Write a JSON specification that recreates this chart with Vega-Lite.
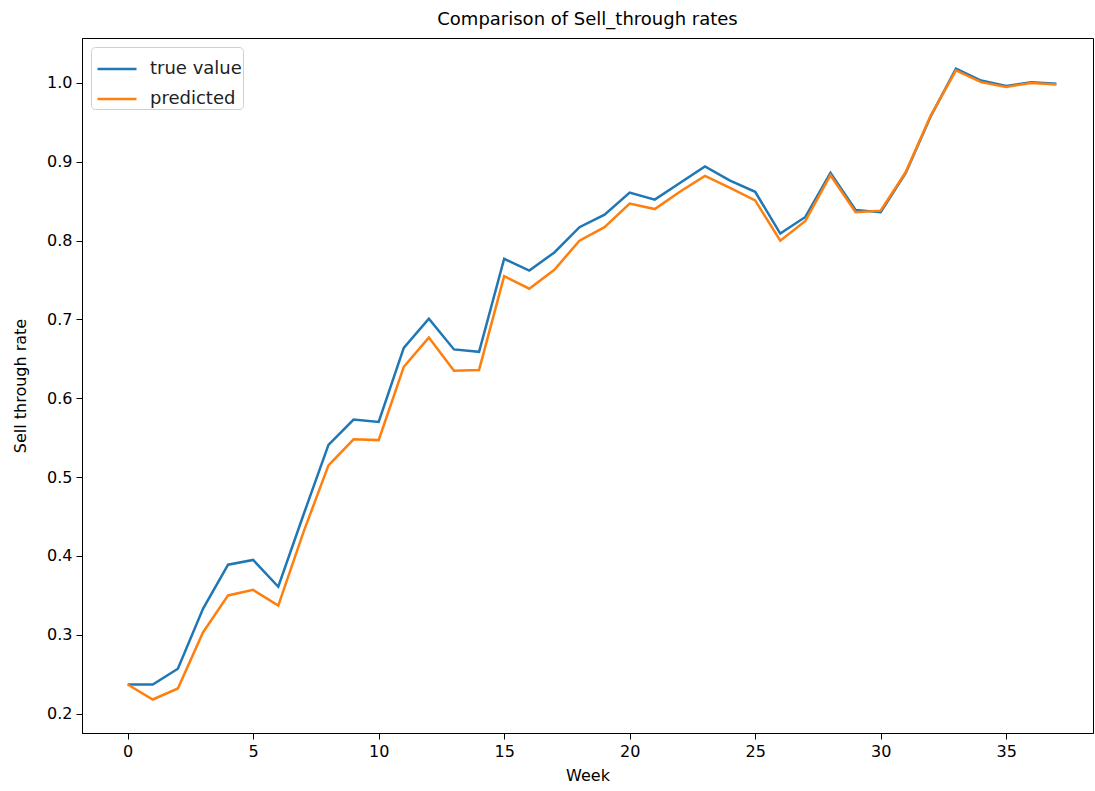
{
  "$schema": "https://vega.github.io/schema/vega-lite/v6.json",
  "autosize": {"type": "none"},
  "width": 1011,
  "height": 695,
  "padding": {"left": 82, "top": 38, "right": 2, "bottom": 58},
  "background": "white",
  "title": {"text": "Comparison of Sell_through rates", "fontSize": 18, "font": "DejaVu Sans", "fontWeight": "normal", "color": "#000", "anchor": "middle", "offset": 9},
  "data": {"values": [
    {"week":0,"series":"true value","rate":0.237},{"week":1,"series":"true value","rate":0.237},{"week":2,"series":"true value","rate":0.257},{"week":3,"series":"true value","rate":0.333},{"week":4,"series":"true value","rate":0.389},{"week":5,"series":"true value","rate":0.395},{"week":6,"series":"true value","rate":0.361},{"week":7,"series":"true value","rate":0.452},{"week":8,"series":"true value","rate":0.541},{"week":9,"series":"true value","rate":0.573},{"week":10,"series":"true value","rate":0.570},{"week":11,"series":"true value","rate":0.664},{"week":12,"series":"true value","rate":0.701},{"week":13,"series":"true value","rate":0.662},{"week":14,"series":"true value","rate":0.659},{"week":15,"series":"true value","rate":0.777},{"week":16,"series":"true value","rate":0.762},{"week":17,"series":"true value","rate":0.785},{"week":18,"series":"true value","rate":0.817},{"week":19,"series":"true value","rate":0.833},{"week":20,"series":"true value","rate":0.861},{"week":21,"series":"true value","rate":0.852},{"week":22,"series":"true value","rate":0.873},{"week":23,"series":"true value","rate":0.894},{"week":24,"series":"true value","rate":0.876},{"week":25,"series":"true value","rate":0.862},{"week":26,"series":"true value","rate":0.809},{"week":27,"series":"true value","rate":0.830},{"week":28,"series":"true value","rate":0.886},{"week":29,"series":"true value","rate":0.839},{"week":30,"series":"true value","rate":0.836},{"week":31,"series":"true value","rate":0.886},{"week":32,"series":"true value","rate":0.958},{"week":33,"series":"true value","rate":1.018},{"week":34,"series":"true value","rate":1.003},{"week":35,"series":"true value","rate":0.996},{"week":36,"series":"true value","rate":1.001},{"week":37,"series":"true value","rate":0.999},
    {"week":0,"series":"predicted","rate":0.237},{"week":1,"series":"predicted","rate":0.218},{"week":2,"series":"predicted","rate":0.232},{"week":3,"series":"predicted","rate":0.303},{"week":4,"series":"predicted","rate":0.350},{"week":5,"series":"predicted","rate":0.357},{"week":6,"series":"predicted","rate":0.337},{"week":7,"series":"predicted","rate":0.430},{"week":8,"series":"predicted","rate":0.515},{"week":9,"series":"predicted","rate":0.548},{"week":10,"series":"predicted","rate":0.547},{"week":11,"series":"predicted","rate":0.640},{"week":12,"series":"predicted","rate":0.677},{"week":13,"series":"predicted","rate":0.635},{"week":14,"series":"predicted","rate":0.636},{"week":15,"series":"predicted","rate":0.755},{"week":16,"series":"predicted","rate":0.739},{"week":17,"series":"predicted","rate":0.763},{"week":18,"series":"predicted","rate":0.800},{"week":19,"series":"predicted","rate":0.817},{"week":20,"series":"predicted","rate":0.847},{"week":21,"series":"predicted","rate":0.840},{"week":22,"series":"predicted","rate":0.862},{"week":23,"series":"predicted","rate":0.882},{"week":24,"series":"predicted","rate":0.867},{"week":25,"series":"predicted","rate":0.851},{"week":26,"series":"predicted","rate":0.800},{"week":27,"series":"predicted","rate":0.825},{"week":28,"series":"predicted","rate":0.883},{"week":29,"series":"predicted","rate":0.836},{"week":30,"series":"predicted","rate":0.838},{"week":31,"series":"predicted","rate":0.887},{"week":32,"series":"predicted","rate":0.959},{"week":33,"series":"predicted","rate":1.016},{"week":34,"series":"predicted","rate":1.001},{"week":35,"series":"predicted","rate":0.995},{"week":36,"series":"predicted","rate":1.000},{"week":37,"series":"predicted","rate":0.998}
  ]},
  "mark": {"type": "line", "strokeWidth": 2.5},
  "encoding": {
    "x": {"field": "week", "type": "quantitative", "title": "Week",
      "scale": {"domain": [-1.82, 38.46], "nice": false, "zero": false},
      "axis": {"values": [0,5,10,15,20,25,30,35], "grid": false, "titlePadding": 8}},
    "y": {"field": "rate", "type": "quantitative", "title": "Sell through rate",
      "scale": {"domain": [0.1755, 1.057], "nice": false, "zero": false},
      "axis": {"values": [0.2,0.3,0.4,0.5,0.6,0.7,0.8,0.9,1.0], "format": ".1f", "grid": false, "titlePadding": 18}},
    "color": {"field": "series", "type": "nominal",
      "scale": {"domain": ["true value", "predicted"], "range": ["#1f77b4", "#ff7f0e"]},
      "legend": {"title": null, "orient": "top-left", "offset": 9, "symbolType": "stroke", "symbolSize": 1521, "symbolStrokeWidth": 2.5, "symbolOffset": 4,
        "labelFontSize": 18, "labelFont": "DejaVu Sans", "labelColor": "#222", "labelOffset": 12, "rowPadding": -7,
        "labelExpr": "datum.label + '\u00a0\u00a0'",
        "padding": 1, "strokeColor": "#d0d0d0", "fillColor": "white", "cornerRadius": 4}}
  },
  "config": {
    "view": {"stroke": "#000", "strokeWidth": 1},
    "axis": {"domainColor": "#000", "tickColor": "#000", "labelColor": "#000", "titleColor": "#000",
      "labelFont": "DejaVu Sans", "titleFont": "DejaVu Sans", "labelFontSize": 16, "titleFontSize": 16,
      "titleFontWeight": "normal", "tickSize": 6, "labelPadding": 4}
  }
}
